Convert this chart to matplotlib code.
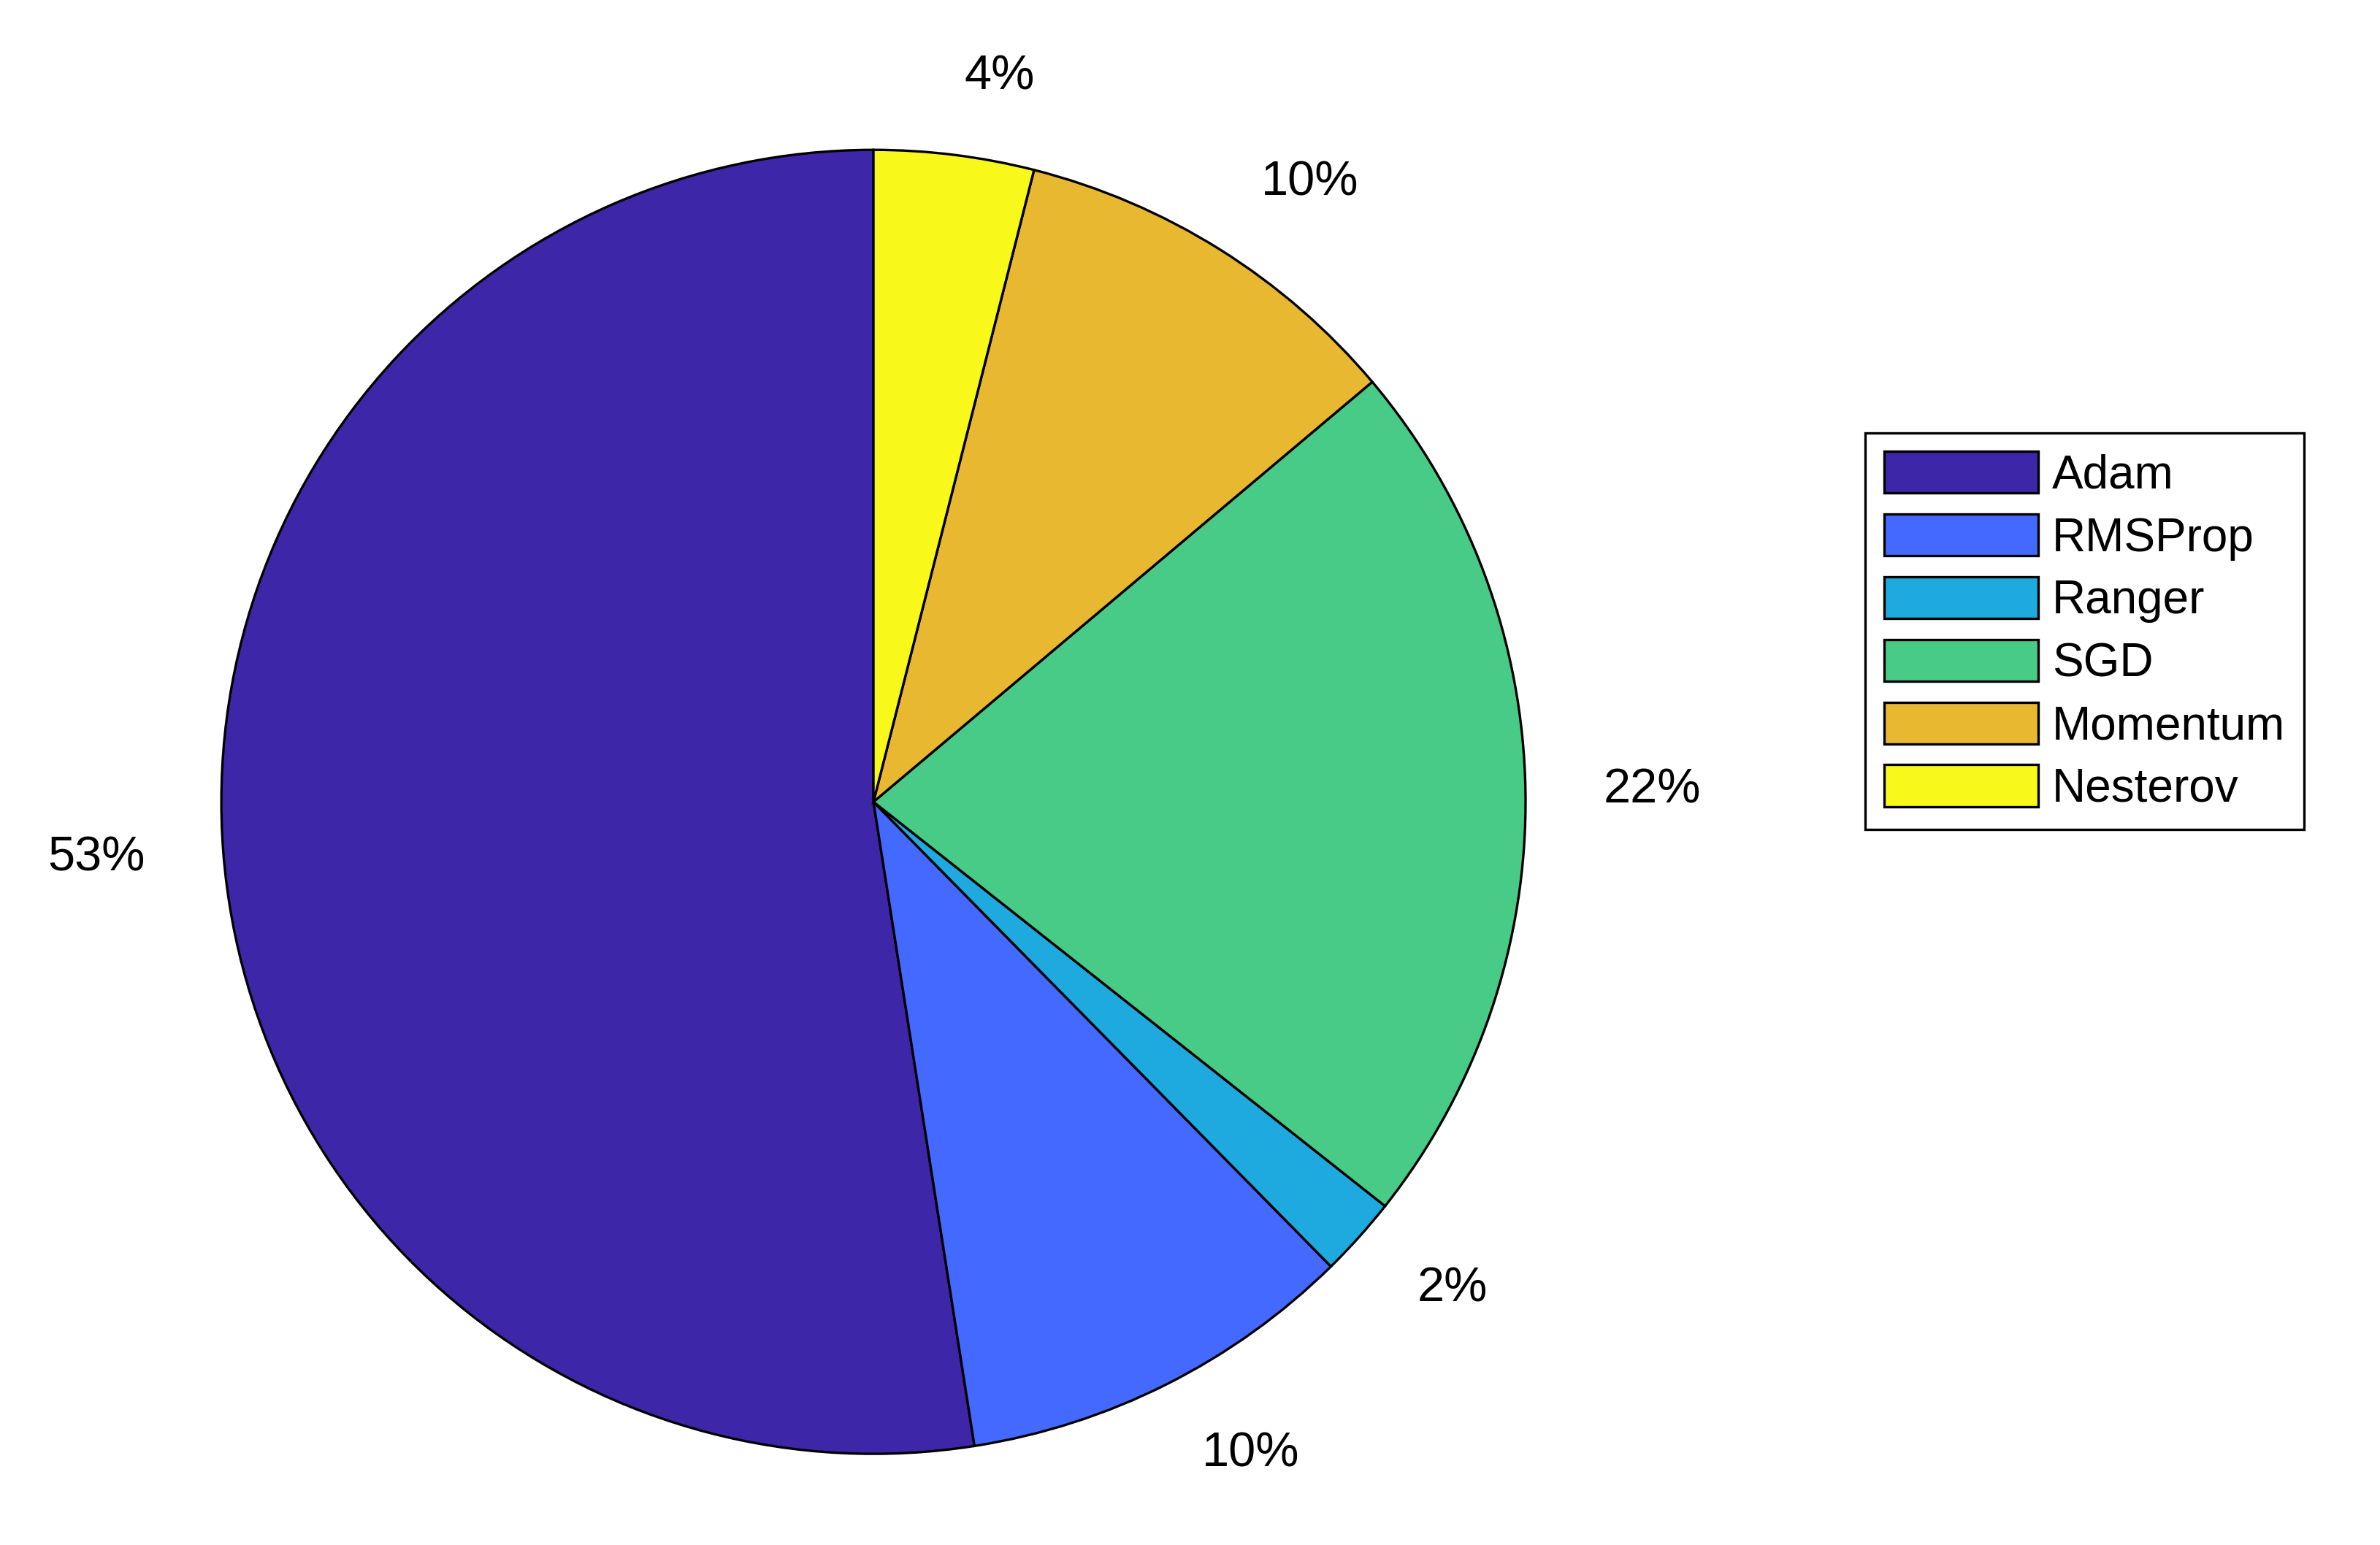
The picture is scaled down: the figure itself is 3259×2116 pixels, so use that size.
import matplotlib.pyplot as plt

plt.rcParams['font.family'] = ['Liberation Sans', 'DejaVu Sans']

names = ['Adam', 'RMSProp', 'Ranger', 'SGD', 'Momentum', 'Nesterov']
shares = [53, 10, 2, 22, 10, 4]
pct_labels = ['53%', '10%', '2%', '22%', '10%', '4%']
colors = ['#3E26A8', '#4469FE', '#1EAADF', '#48CB86', '#E8B830', '#F8F91A']

fig = plt.figure(figsize=(16.295, 10.58), dpi=200)
ax = fig.add_axes([0.093, 0.059, 0.548, 0.844])
wedges, texts = ax.pie(shares, labels=pct_labels, colors=colors, startangle=90,
                       counterclock=True, labeldistance=1.12,
                       wedgeprops=dict(edgecolor='black', linewidth=1.2),
                       textprops=dict(fontsize=24))
ax.set_aspect('equal')
ax.set_xlim(-1, 1)
ax.set_ylim(-1, 1)

leg = fig.legend(wedges, names, loc='upper left', bbox_to_anchor=(0.774, 0.735),
                 fontsize=23, fancybox=False, edgecolor='black', framealpha=1,
                 handlelength=3.3, handleheight=1.0, handletextpad=0.3,
                 labelspacing=0.35, borderpad=0.4)
leg.get_frame().set_linewidth(1.2)

fig.savefig('out.png', dpi=200)
